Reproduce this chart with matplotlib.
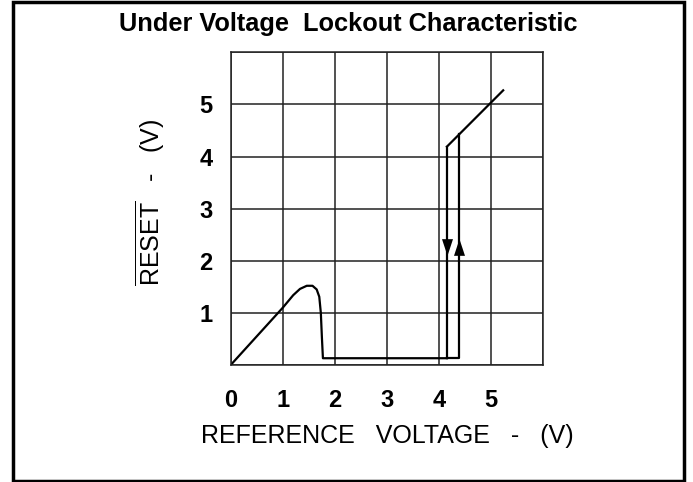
import matplotlib
matplotlib.use("Agg")
import matplotlib.pyplot as plt
from matplotlib.patches import Rectangle

plt.rcParams['font.family'] = ['Liberation Sans', 'DejaVu Sans']
plt.rcParams['mathtext.fontset'] = 'custom'
plt.rcParams['mathtext.rm'] = 'Liberation Sans'

# Data
rise_x = [0.0, 0.5, 1.0, 1.20, 1.33, 1.46, 1.57, 1.65, 1.70, 1.73, 1.75, 1.77, 4.15]
rise_y = [0.0, 0.55, 1.10, 1.34, 1.46, 1.52, 1.52, 1.45, 1.31, 1.00, 0.54, 0.13, 0.13]
down_x = [4.15, 4.15]
down_y = [4.19, 0.13]
up_x = [4.15, 4.39, 4.39]
up_y = [0.13, 0.13, 4.43]
top_x = [4.15, 4.39, 5.23]
top_y = [4.19, 4.43, 5.27]
arrow_x = [4.15, 4.39]
arrow_y = [2.27, 2.27]
arrow_dir = ['down', 'up']

xticks = [0, 1, 2, 3, 4, 5]
yticks = [1, 2, 3, 4, 5]

fig = plt.figure(figsize=(6.93, 4.82), dpi=100)
ax = fig.add_axes([230.7 / 693, 117 / 482, 312.6 / 693, 312.7 / 482])

lw = 1.6
ax.plot(rise_x, rise_y, color='black', lw=lw, solid_joinstyle='round')
ax.plot(down_x, down_y, color='black', lw=lw)
ax.plot(up_x, up_y, color='black', lw=lw)
ax.plot(top_x, top_y, color='black', lw=lw)

down_marker = [(-0.33, 0.5), (0.33, 0.5), (0, -0.5), (-0.33, 0.5)]
up_marker = [(-0.33, -0.5), (0.33, -0.5), (0, 0.5), (-0.33, -0.5)]
for x, y, d in zip(arrow_x, arrow_y, arrow_dir):
    ax.plot([x], [y], marker=down_marker if d == 'down' else up_marker,
            markersize=12, color='black', markeredgewidth=0)

ax.set_xlim(0, 6)
ax.set_ylim(0, 6)
ax.set_xticks(range(0, 7))
ax.set_yticks(range(0, 7))
ax.set_xticklabels([str(t) if t in xticks else '' for t in range(0, 7)])
ax.set_yticklabels([str(t) if t in yticks else '' for t in range(0, 7)])
ax.tick_params(axis='both', length=0, labelsize=17)
ax.tick_params(axis='x', pad=17)
ax.tick_params(axis='y', pad=13)
for lab in ax.get_xticklabels() + ax.get_yticklabels():
    lab.set_fontweight('bold')
ax.grid(True, color='#222222', lw=1.1)
for s in ax.spines.values():
    s.set_color('#222222')
    s.set_linewidth(1.1)

ax.set_xlabel('REFERENCE   VOLTAGE   -   (V)', fontsize=18, labelpad=9)
ax.set_ylabel(r'$\overline{\mathrm{RESET}}$   -   (V)', fontsize=18, labelpad=23)
ax.yaxis.label.set_y(0.52)

fig.text(348 / 693, 1 - 24 / 482, 'Under Voltage  Lockout Characteristic',
         ha='center', va='center', fontsize=18.3, fontweight='bold')

fig.patches.append(Rectangle((13 / 693, 1 / 482), 671 / 693, 479 / 482,
                             transform=fig.transFigure, fill=False,
                             edgecolor='black', lw=2.5))

fig.savefig('out.png', dpi=100)
